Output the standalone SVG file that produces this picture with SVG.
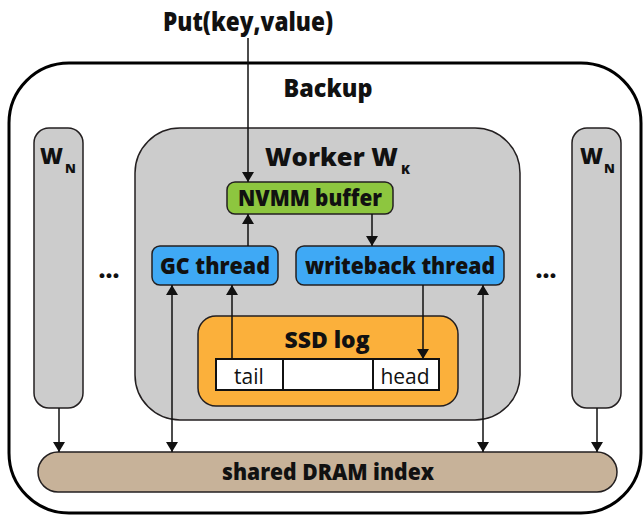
<svg xmlns="http://www.w3.org/2000/svg" width="644" height="517" viewBox="0 0 644 517">
  <style>
    .t { font-family: "Open Sans", "Liberation Sans", sans-serif; font-weight: 800; fill: #111; }
    .r { font-family: "Open Sans", "Liberation Sans", sans-serif; font-weight: normal; fill: #111; }
    .box { stroke: #231f20; stroke-width: 1.5; }
    .gray { fill: #cccccc; }
    .link { stroke: #111; stroke-width: 1.5; fill: none; }
  </style>
  <defs>
    <marker id="head" markerUnits="userSpaceOnUse" markerWidth="12" markerHeight="12" refX="10" refY="6" orient="auto-start-reverse">
      <path d="M0,0 L10,6 L0,12 z" fill="#111"/>
    </marker>
  </defs>

  <rect width="644" height="517" fill="#ffffff"/>

  <!-- outer backup container -->
  <g id="backup">
    <rect x="9" y="63" width="632" height="450" rx="60" fill="none" stroke="#000" stroke-width="3"/>
    <text class="t" x="328" y="97" font-size="25" text-anchor="middle" textLength="89" lengthAdjust="spacingAndGlyphs">Backup</text>
  </g>

  <!-- put request label -->
  <g id="put">
    <text class="t" x="248" y="31" font-size="26" text-anchor="middle" textLength="170" lengthAdjust="spacingAndGlyphs">Put(key,value)</text>
  </g>

  <!-- neighbouring workers -->
  <g id="worker-left">
    <rect class="box gray" x="34" y="128" width="49" height="280" rx="15"/>
    <text class="t" x="40" y="164" font-size="23" textLength="23" lengthAdjust="spacingAndGlyphs">W</text>
    <text class="t" x="65" y="173" font-size="13">N</text>
  </g>
  <g id="worker-right">
    <rect class="box gray" x="572" y="128" width="49" height="280" rx="15"/>
    <text class="t" x="580" y="164" font-size="23" textLength="23" lengthAdjust="spacingAndGlyphs">W</text>
    <text class="t" x="604" y="173" font-size="13">N</text>
  </g>
  <g id="dots-left">
    <text class="t" x="109" y="278" font-size="24" text-anchor="middle">...</text>
  </g>
  <g id="dots-right">
    <text class="t" x="546" y="278" font-size="24" text-anchor="middle">...</text>
  </g>

  <!-- worker K -->
  <g id="worker-k">
    <rect class="box gray" x="135" y="128" width="385" height="292" rx="45"/>
    <text class="t" x="265" y="166" font-size="24" textLength="133" lengthAdjust="spacingAndGlyphs">Worker W</text>
    <text class="t" x="401" y="174" font-size="13">K</text>
  </g>

  <g id="nvmm-buffer">
    <rect class="box" x="227" y="182" width="166" height="32" rx="8" fill="#8dc63f"/>
    <text class="t" x="310" y="206" font-size="22" text-anchor="middle" textLength="144" lengthAdjust="spacingAndGlyphs">NVMM buffer</text>
  </g>

  <g id="gc-thread">
    <rect class="box" x="152" y="246" width="126" height="39" rx="8" fill="#3fa9f5"/>
    <text class="t" x="215" y="274" font-size="23" text-anchor="middle" textLength="110" lengthAdjust="spacingAndGlyphs">GC thread</text>
  </g>

  <g id="writeback-thread">
    <rect class="box" x="296" y="246" width="208" height="39" rx="8" fill="#3fa9f5"/>
    <text class="t" x="400" y="274" font-size="23" text-anchor="middle" textLength="190" lengthAdjust="spacingAndGlyphs">writeback thread</text>
  </g>

  <g id="ssd-log">
    <rect class="box" x="198" y="316" width="260" height="90" rx="18" fill="#fbb03b"/>
    <text class="t" x="327" y="348" font-size="23" text-anchor="middle" textLength="85" lengthAdjust="spacingAndGlyphs">SSD log</text>
    <rect x="216" y="359" width="223" height="31" fill="#ffffff" stroke="#111" stroke-width="2"/>
    <line x1="283" y1="359" x2="283" y2="390" stroke="#111" stroke-width="2"/>
    <line x1="373" y1="359" x2="373" y2="390" stroke="#111" stroke-width="2"/>
    <text class="r" x="249" y="384" font-size="21" text-anchor="middle">tail</text>
    <text class="r" x="405" y="384" font-size="21" text-anchor="middle">head</text>
  </g>

  <g id="dram-index">
    <rect class="box" x="38" y="452" width="579" height="40" rx="20" fill="#c7b299"/>
    <text class="t" x="328" y="480" font-size="22" text-anchor="middle" textLength="212" lengthAdjust="spacingAndGlyphs">shared DRAM index</text>
  </g>

  <!-- connectors -->
  <g id="connectors">
    <line class="link" x1="248" y1="38" x2="248" y2="182" marker-end="url(#head)"/>
    <line class="link" x1="248" y1="246" x2="248" y2="214" marker-end="url(#head)"/>
    <line class="link" x1="372" y1="214" x2="372" y2="246" marker-end="url(#head)"/>
    <line class="link" x1="232" y1="359" x2="232" y2="285" marker-end="url(#head)"/>
    <line class="link" x1="423" y1="285" x2="423" y2="359" marker-end="url(#head)"/>
    <line class="link" x1="172" y1="285" x2="172" y2="452" marker-start="url(#head)" marker-end="url(#head)"/>
    <line class="link" x1="483" y1="285" x2="483" y2="452" marker-start="url(#head)" marker-end="url(#head)"/>
    <line class="link" x1="59" y1="408" x2="59" y2="452" marker-end="url(#head)"/>
    <line class="link" x1="597" y1="408" x2="597" y2="452" marker-end="url(#head)"/>
  </g>
</svg>
